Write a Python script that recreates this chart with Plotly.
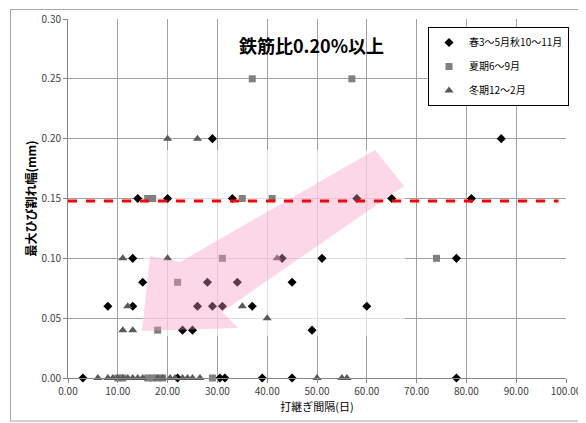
import plotly.graph_objects as go

# ---- data ----
spring_autumn_x = [3, 22, 30.5, 31.5, 39, 45, 78,
                   23, 25, 49,
                   8, 13, 26, 29, 31, 37, 60,
                   15, 28, 34, 45,
                   13, 43, 51, 78,
                   14, 20, 33, 58, 65, 81,
                   29, 87]
spring_autumn_y = [0, 0, 0, 0, 0, 0, 0,
                   0.04, 0.04, 0.04,
                   0.06, 0.06, 0.06, 0.06, 0.06, 0.06, 0.06,
                   0.08, 0.08, 0.08, 0.08,
                   0.10, 0.10, 0.10, 0.10,
                   0.15, 0.15, 0.15, 0.15, 0.15, 0.15,
                   0.20, 0.20]

summer_x = [10, 11, 16, 17, 18, 19, 29,
            18, 22, 31, 74,
            16, 17, 35, 41,
            37, 57]
summer_y = [0, 0, 0, 0, 0, 0, 0,
            0.04, 0.08, 0.10, 0.10,
            0.15, 0.15, 0.15, 0.15,
            0.25, 0.25]

winter_x = [6, 8, 9, 10, 11, 12, 13, 14, 15, 18, 19, 20.5, 21.5, 23, 24, 25, 26.5, 50, 55, 56,
            11, 13, 40, 12, 35, 11, 20, 42, 20, 26]
winter_y = [0] * 20 + [0.04, 0.04, 0.05, 0.06, 0.06, 0.10, 0.10, 0.10, 0.20, 0.20]

series_names = ["春3～5月秋10～11月", "夏期6～9月", "冬期12～2月"]
x_ticks = [0, 10, 20, 30, 40, 50, 60, 70, 80, 90, 100]
y_ticks = [0, 0.05, 0.10, 0.15, 0.20, 0.25, 0.30]
threshold = 0.148
threshold_end = 98.5
title_text = "鉄筋比0.20%以上"
x_title = "打継ぎ間隔(日)"
y_title = "最大ひび割れ幅(mm)"

FONT = "Noto Sans CJK JP"

fig = go.Figure()
fig.add_trace(go.Scatter(x=spring_autumn_x, y=spring_autumn_y, mode="markers", name=series_names[0],
                         legendgroup="a",
                         marker=dict(symbol="diamond", size=7, color="black"), cliponaxis=False))
fig.add_trace(go.Scatter(x=summer_x, y=summer_y, mode="markers", name=series_names[1],
                         legendgroup="b",
                         marker=dict(symbol="square", size=7, color="#808080"), cliponaxis=False))
fig.add_trace(go.Scatter(x=winter_x, y=winter_y, mode="markers", name=series_names[2],
                         legendgroup="c",
                         marker=dict(symbol="triangle-up", size=8, color="#595959"), cliponaxis=False))

# pixel -> data helpers for decorations (plot area 68..566 x, 19..378 y on the page)
def px_x(p):
    return (p - 68) / 498 * 100

def px_y(p):
    return (378 - p) / 359 * 0.30

# faded backdrop of the pasted arrow image
fig.add_shape(type="rect", layer="between", xref="x", yref="y",
              x0=px_x(143), x1=px_x(405), y0=px_y(336), y1=px_y(150),
              fillcolor="rgba(255,255,255,0.65)", line=dict(width=0))

arrow_px = [(142, 331), (150, 256), (180, 262), (375, 150), (404, 186), (222, 312), (238, 328)]
path = "M " + " L ".join(f"{px_x(a)},{px_y(b)}" for a, b in arrow_px) + " Z"
fig.add_shape(type="path", path=path, layer="above", xref="x", yref="y",
              fillcolor="rgba(245,150,195,0.38)", line=dict(width=0))

fig.add_shape(type="line", layer="above", xref="x", yref="y",
              x0=0, x1=threshold_end, y0=threshold, y1=threshold,
              line=dict(color="#ff0000", width=3, dash="dash"))

# outer chart border (page coords 10..584 x, 9..bottom y)
fig.add_shape(type="rect", xref="paper", yref="paper", layer="above",
              x0=(10.5 - 68) / 498, x1=(583.5 - 68) / 498, y0=(378 - 421) / 359, y1=(378 - 9.5) / 359,
              line=dict(color="#a6a6a6", width=1), fillcolor="rgba(0,0,0,0)")

fig.add_annotation(text=f"<b>{title_text}</b>", x=px_x(311), y=px_y(45), xref="x", yref="y",
                   showarrow=False, font=dict(family=FONT, size=18, color="black"))

# page body has an 8px margin, so the figure is 8px smaller and margins shifted
fig.update_layout(
    width=578, height=415,
    margin=dict(l=60, r=20, t=11, b=45, autoexpand=False),
    paper_bgcolor="white", plot_bgcolor="white",
    font=dict(family=FONT, size=10, color="#404040"),
    showlegend=True,
    legend=dict(x=(428 - 68) / 498, y=(378 - 27) / 359, xanchor="left", yanchor="top",
                bgcolor="white", bordercolor="black", borderwidth=1,
                font=dict(family=FONT, size=10, color="black"),
                tracegroupgap=5, itemwidth=30),
)
fig.update_xaxes(range=[0, 100], tickvals=x_ticks, ticktext=[f"{v:.2f}" for v in x_ticks],
                 automargin=False,
                 showgrid=True, gridcolor="#a0a0a0", gridwidth=1,
                 showline=True, linecolor="#868686", ticks="outside", ticklen=4, tickcolor="#868686",
                 zeroline=False, mirror=False,
                 title=dict(text=x_title, font=dict(family=FONT, size=11, color="black"), standoff=6),
                 tickfont=dict(size=10, color="#404040"))
fig.update_yaxes(range=[0, 0.30], tickvals=y_ticks, ticktext=[f"{v:.2f}" for v in y_ticks],
                 automargin=False,
                 showgrid=True, gridcolor="#a0a0a0", gridwidth=1,
                 showline=True, linecolor="#868686", ticks="outside", ticklen=4, tickcolor="#868686",
                 zeroline=False,
                 title=dict(text=f"<b>{y_title}</b>", font=dict(family=FONT, size=12, color="black"), standoff=2),
                 tickfont=dict(size=10, color="#404040"))

fig.write_html("out.html")
